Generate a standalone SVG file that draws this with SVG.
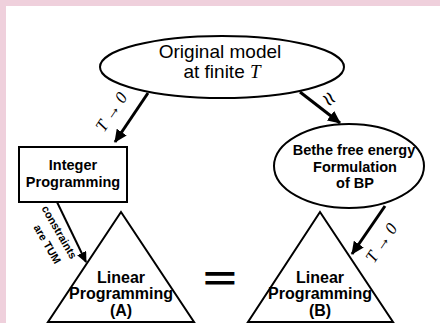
<svg xmlns="http://www.w3.org/2000/svg" width="440" height="323" viewBox="0 0 440 323">
<style>
.shape{fill:#fff;stroke:#000;stroke-width:2}
.lbl{font-family:"Liberation Sans",Arial,sans-serif;font-weight:bold;text-anchor:middle;fill:#000}
.big{font-family:"Liberation Sans",Arial,sans-serif;font-size:19px;text-anchor:middle;fill:#000}
.math{font-family:"Liberation Serif","Times New Roman",serif;font-style:italic;fill:#000}
.sym{font-family:"Liberation Sans",Arial,sans-serif;font-weight:normal;text-anchor:middle;fill:#000}
.conn{stroke:#000;fill:none}
</style>
<defs>
<marker id="ah" markerUnits="userSpaceOnUse" markerWidth="14" markerHeight="12" refX="12" refY="6" orient="auto">
<path d="M0,0 L13,6 L0,12 Z" fill="#000"/>
</marker>
<marker id="ah2" markerUnits="userSpaceOnUse" markerWidth="12" markerHeight="10" refX="10" refY="5" orient="auto">
<path d="M0,0 L11,5 L0,10 Z" fill="#000"/>
</marker>
</defs>
<rect x="0" y="0" width="440" height="323" fill="#efd0dc"/>
<rect x="6" y="6" width="434" height="317" fill="#fff"/>

<g id="connectors">
<line class="conn" x1="148" y1="93" x2="115" y2="142" stroke-width="3" marker-end="url(#ah)"/>
<line class="conn" x1="300" y1="92" x2="340" y2="123" stroke-width="3" marker-end="url(#ah)"/>
<line class="conn" x1="57" y1="202" x2="86" y2="262" stroke-width="2" marker-end="url(#ah2)"/>
<line class="conn" x1="385" y1="206" x2="352" y2="254" stroke-width="3" marker-end="url(#ah)"/>
<text class="math" font-size="17" text-anchor="middle" transform="translate(116,115) rotate(-56)">T → 0</text>
<text class="sym" font-size="24" transform="translate(323,104) rotate(50)">≈</text>
<text class="lbl" font-size="11" transform="translate(56,234) rotate(60)">constraints</text>
<text class="lbl" font-size="11" transform="translate(44,246) rotate(60)">are TUM</text>
<text class="math" font-size="17" text-anchor="middle" transform="translate(386,246) rotate(-56)">T → 0</text>
</g>

<g id="original">
<ellipse class="shape" cx="222" cy="67" rx="122" ry="31"/>
<text class="big" x="220" y="58">Original model</text>
<text class="big" x="222" y="78">at finite <tspan class="math" font-size="19">T</tspan></text>
</g>

<g id="integer">
<rect class="shape" x="19" y="147" width="108" height="55"/>
<text class="lbl" font-size="14.5" x="73" y="170">Integer</text>
<text class="lbl" font-size="14.5" x="73" y="187">Programming</text>
</g>

<g id="bethe">
<ellipse class="shape" cx="349" cy="166" rx="75" ry="42"/>
<text class="lbl" font-size="14.5" x="354" y="155">Bethe free energy</text>
<text class="lbl" font-size="14.5" x="355" y="172">Formulation</text>
<text class="lbl" font-size="14.5" x="355" y="188">of BP</text>
</g>

<g id="lpA">
<polygon class="shape" points="121,212 48,322 194,322"/>
<text class="lbl" font-size="16" x="121" y="283">Linear</text>
<text class="lbl" font-size="16" x="121" y="299">Programming</text>
<text class="lbl" font-size="16" x="121" y="316">(A)</text>
</g>

<g id="lpB">
<polygon class="shape" points="320,212 248,322 393,322"/>
<text class="lbl" font-size="16" x="320" y="283">Linear</text>
<text class="lbl" font-size="16" x="320" y="299">Programming</text>
<text class="lbl" font-size="16" x="320" y="316">(B)</text>
</g>

<g id="equals">
<text class="lbl" font-size="34" x="220" y="290" transform="translate(220,0) scale(1.7,1) translate(-220,0)">=</text>
</g>
</svg>
